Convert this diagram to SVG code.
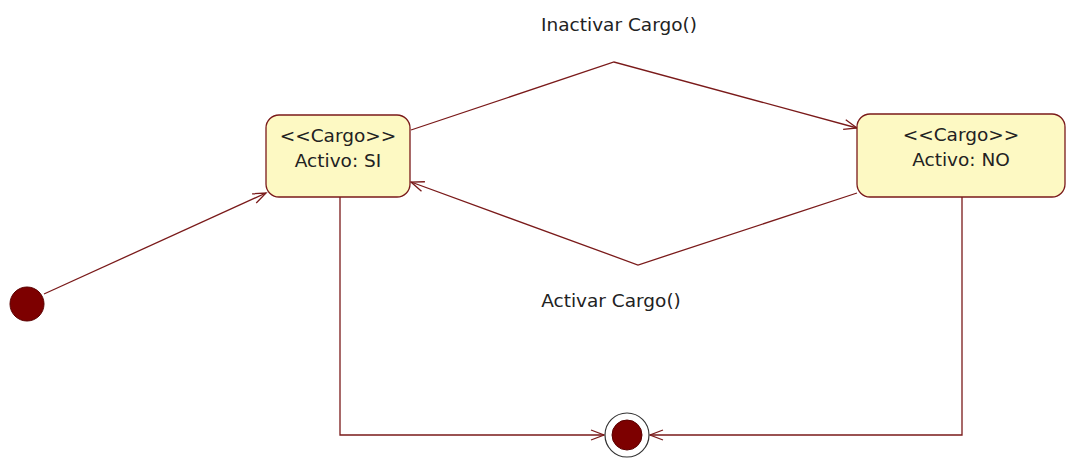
<svg xmlns="http://www.w3.org/2000/svg" width="1068" height="459" viewBox="0 0 1068 459">
  <style>
    .state { fill: #fdf9c3; stroke: #7a1a1a; stroke-width: 1.3; }
    .txt { font-family: "DejaVu Sans", "Liberation Sans", sans-serif; font-size: 18.5px; fill: #222; text-anchor: middle; }
    .edge { fill: none; stroke: #7a1a1a; stroke-width: 1.3; }
    .dot { fill: #7d0000; stroke: #5a0000; stroke-width: 1; }
  </style>
  <defs>
    <marker id="open" markerWidth="16" markerHeight="12" refX="14" refY="6" orient="auto" markerUnits="userSpaceOnUse">
      <path d="M1,1 L14,6 L1,11" fill="none" stroke="#7a1a1a" stroke-width="1.3"/>
    </marker>
  </defs>
  <rect width="1068" height="459" fill="#ffffff"/>

  <g id="connectors">
    <line class="edge" x1="44" y1="294" x2="266" y2="193" marker-end="url(#open)"/>
    <polyline class="edge" points="411,130 614,62 857,128" marker-end="url(#open)"/>
    <polyline class="edge" points="857,193 638,265 411,182" marker-end="url(#open)"/>
    <polyline class="edge" points="340,197 340,435 604,435" marker-end="url(#open)"/>
    <polyline class="edge" points="962,197 962,435 650,435" marker-end="url(#open)"/>
  </g>

  <g id="labels">
    <text class="txt" x="619" y="31">Inactivar Cargo()</text>
    <text class="txt" x="611" y="307">Activar Cargo()</text>
  </g>

  <g id="initial">
    <circle class="dot" cx="27" cy="304" r="17"/>
  </g>

  <g id="state-activo-si">
    <rect class="state" x="266" y="115" width="144" height="82" rx="13"/>
    <text class="txt" x="338" y="142">&lt;&lt;Cargo&gt;&gt;</text>
    <text class="txt" x="338" y="167">Activo: SI</text>
  </g>

  <g id="state-activo-no">
    <rect class="state" x="857" y="114" width="208" height="83" rx="13"/>
    <text class="txt" x="961" y="141">&lt;&lt;Cargo&gt;&gt;</text>
    <text class="txt" x="961" y="166">Activo: NO</text>
  </g>

  <g id="final">
    <circle cx="627" cy="435" r="22" fill="#ffffff" stroke="#333" stroke-width="1.2"/>
    <circle class="dot" cx="627" cy="435" r="15"/>
  </g>
</svg>
